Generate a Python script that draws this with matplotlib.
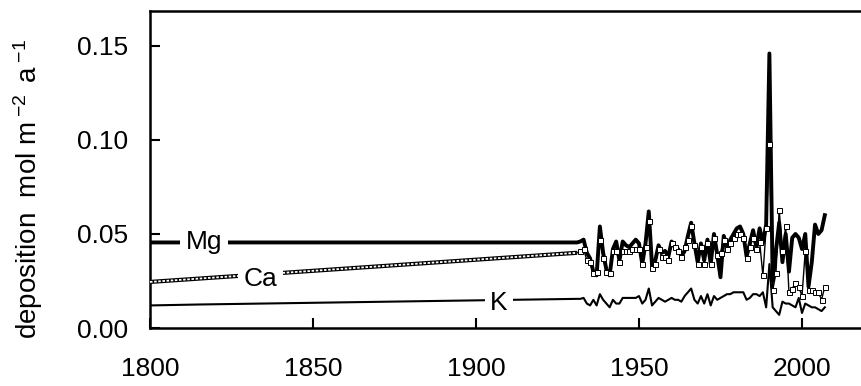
import numpy as np
import matplotlib
matplotlib.use('Agg')
import matplotlib.pyplot as plt

plt.rcParams['font.family'] = ['Liberation Sans', 'DejaVu Sans']
plt.rcParams['mathtext.fontset'] = 'custom'
plt.rcParams['mathtext.rm'] = 'Liberation Sans'
plt.rcParams['mathtext.it'] = 'Liberation Sans:italic'

# ==================== data ====================
# early period (constant / slowly rising estimates)
early_years_mg = [1800, 1931]
early_mg = [0.0455, 0.0455]
early_years_ca = [1800, 1931]
early_ca = [0.0245, 0.0400]
early_years_k = [1800, 1815, 1931]
early_k = [0.0120, 0.0125, 0.0155]

# annual measurements 1932-2007
years = list(range(1932, 2008))
mg = [0.046, 0.047, 0.040, 0.037, 0.030, 0.028, 0.054, 0.040, 0.031, 0.028,   # 1932-41
      0.042, 0.046, 0.036, 0.046, 0.044, 0.043, 0.045, 0.047, 0.045, 0.034,   # 1942-51
      0.045, 0.062, 0.033, 0.036, 0.044, 0.040, 0.041, 0.038, 0.046, 0.043,   # 1952-61
      0.042, 0.038, 0.041, 0.049, 0.056, 0.045, 0.035, 0.045, 0.036, 0.047,   # 1962-71
      0.034, 0.050, 0.039, 0.027, 0.049, 0.043, 0.047, 0.050, 0.053, 0.054,   # 1972-81
      0.050, 0.038, 0.045, 0.052, 0.043, 0.053, 0.045, 0.055, 0.146, 0.025,   # 1982-91
      0.041, 0.056, 0.035, 0.050, 0.030, 0.048, 0.050, 0.048, 0.042, 0.050,   # 1992-2001
      0.022, 0.035, 0.055, 0.050, 0.052, 0.060]                               # 2002-07
ca = [0.041, 0.042, 0.036, 0.035, 0.029, 0.030, 0.047, 0.037, 0.030, 0.029,
      0.041, 0.041, 0.035, 0.041, 0.041, 0.041, 0.042, 0.042, 0.042, 0.034,
      0.043, 0.057, 0.032, 0.034, 0.042, 0.038, 0.038, 0.036, 0.045, 0.043,
      0.041, 0.038, 0.043, 0.047, 0.054, 0.044, 0.034, 0.043, 0.034, 0.045,
      0.034, 0.048, 0.039, 0.040, 0.047, 0.042, 0.045, 0.048, 0.050, 0.050,
      0.048, 0.037, 0.043, 0.048, 0.042, 0.046, 0.028, 0.053, 0.098, 0.020,
      0.029, 0.063, 0.041, 0.054, 0.019, 0.021, 0.024, 0.022, 0.017, 0.041,
      0.020, 0.020, 0.019, 0.019, 0.015, 0.022]
k = [0.0155, 0.016, 0.013, 0.012, 0.015, 0.012, 0.018, 0.015, 0.013, 0.011,
     0.015, 0.013, 0.013, 0.016, 0.016, 0.016, 0.016, 0.016, 0.017, 0.013,
     0.015, 0.021, 0.012, 0.014, 0.016, 0.015, 0.014, 0.015, 0.016, 0.015,
     0.015, 0.014, 0.017, 0.019, 0.021, 0.015, 0.013, 0.017, 0.013, 0.018,
     0.012, 0.017, 0.015, 0.016, 0.017, 0.018, 0.018, 0.019, 0.019, 0.019,
     0.019, 0.015, 0.016, 0.018, 0.018, 0.017, 0.019, 0.011, 0.034, 0.011,
     0.009, 0.007, 0.014, 0.013, 0.013, 0.012, 0.011, 0.016, 0.008, 0.013,
     0.012, 0.011, 0.011, 0.010, 0.009, 0.011]

xticks = [1800, 1850, 1900, 1950, 2000]
yticks = [0.00, 0.05, 0.10, 0.15]

# ==================== plot ====================
fig = plt.figure(figsize=(8.61, 3.86), dpi=100)
ax = fig.add_axes([150 / 861, 58 / 386, 715 / 861, 317 / 386])

# Mg - thick
ax.plot(early_years_mg + years, early_mg + mg, color='black', lw=2.8, zorder=2)

# Ca - early part drawn as a chain of small squares
ax.plot(early_years_ca, early_ca, color='black', lw=3.0, zorder=3, solid_capstyle='butt')
ax.plot(early_years_ca, early_ca, color='white', lw=1.3, ls=(0, (1.4, 0.9)), zorder=3)
ax.plot([early_years_ca[-1]] + years, [early_ca[-1]] + ca, color='black', lw=1.0, zorder=3)
ax.plot(years, ca, ls='none', marker='s', ms=3.6, mfc='white', mec='black', mew=0.7, zorder=4)

# K - thin
ax.plot(early_years_k + years, early_k + k, color='black', lw=1.5, zorder=3)

# labels sitting on the lines
box = dict(facecolor='white', edgecolor='none', pad=4)
ax.text(1816.5, 0.0455, 'Mg', fontsize=19, ha='center', va='center', bbox=box, zorder=5)
ax.text(1834, 0.0260, 'Ca', fontsize=19, ha='center', va='center', bbox=box, zorder=5)
ax.text(1907, 0.0133, 'K', fontsize=19, ha='center', va='center', bbox=box, zorder=5)

ax.set_xlim(1800, 1800 + 715 / 3.26)
ax.set_ylim(0, 0.1686)
ax.set_xticks(xticks)
ax.set_yticks(yticks)
ax.set_yticklabels([f'{v:.2f}' for v in yticks])
ax.tick_params(direction='in', length=7, width=1.5, labelsize=19)
ax.tick_params(axis='y', pad=16)
ax.tick_params(axis='x', pad=21)
for s in ax.spines.values():
    s.set_linewidth(1.8)

ax.set_ylabel(r'deposition  mol m$^{\;\mathregular{-2}}$ $\,$a$^{\;\mathregular{-1}}$', fontsize=20)
ax.yaxis.set_label_coords(-0.147, 0.44)

plt.savefig('out.png', dpi=100)
